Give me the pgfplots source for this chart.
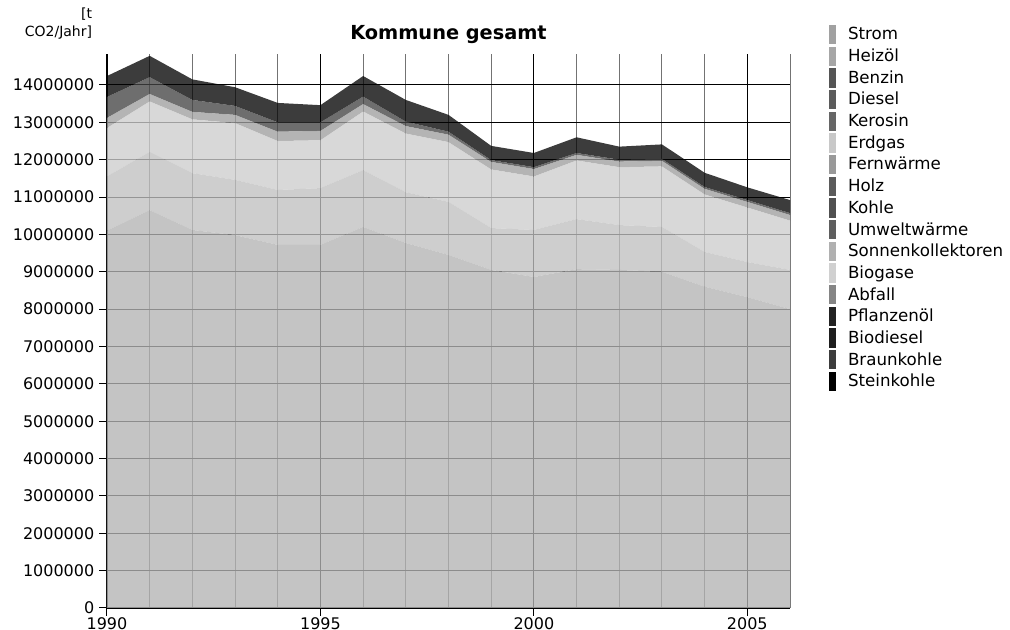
\documentclass[border=0pt]{standalone}
\usepackage{fontspec}
\setmainfont{DejaVu Sans}
\usepackage{pgfplots}
\pgfplotsset{compat=1.18}
\usepackage{pgfplotstable}

\definecolor{fStrom}{gray}{0.706}
\definecolor{fHeiz}{gray}{0.753}
\definecolor{fErd}{gray}{0.804}
\definecolor{fFern}{gray}{0.624}
\definecolor{fDiesel}{gray}{0.271}
\definecolor{fBenzin}{gray}{0.02}

\definecolor{lStrom}{gray}{0.63}
\definecolor{lHeiz}{gray}{0.65}
\definecolor{lBenzin}{gray}{0.335}
\definecolor{lDiesel}{gray}{0.355}
\definecolor{lKerosin}{gray}{0.40}
\definecolor{lErd}{gray}{0.785}
\definecolor{lFern}{gray}{0.60}
\definecolor{lHolz}{gray}{0.355}
\definecolor{lKohle}{gray}{0.315}
\definecolor{lUmwelt}{gray}{0.37}
\definecolor{lSonnen}{gray}{0.69}
\definecolor{lBiogas}{gray}{0.815}
\definecolor{lAbfall}{gray}{0.52}
\definecolor{lPflanz}{gray}{0.135}
\definecolor{lBiodiesel}{gray}{0.118}
\definecolor{lBraun}{gray}{0.235}
\definecolor{lStein}{gray}{0.0}

\pgfplotstableread{
year strom heiz erdgas fern diesel benzin
1990 10100000 1450000 1300000 270000 560000 560000
1991 10650000 1560000 1350000 200000 450000 570000
1992 10120000 1520000 1440000 200000 320000 550000
1993 9980000 1480000 1520000 220000 240000 500000
1994 9720000 1470000 1310000 250000 250000 520000
1995 9720000 1520000 1280000 250000 230000 460000
1996 10200000 1520000 1570000 200000 200000 550000
1997 9770000 1360000 1570000 200000 120000 580000
1998 9450000 1420000 1600000 200000 80000 450000
1999 9050000 1120000 1570000 200000 50000 380000
2000 8860000 1260000 1430000 200000 50000 380000
2001 9070000 1340000 1570000 150000 50000 420000
2002 9050000 1200000 1550000 150000 50000 350000
2003 9000000 1200000 1620000 150000 50000 390000
2004 8600000 930000 1540000 150000 50000 380000
2005 8320000 940000 1460000 150000 50000 340000
2006 8000000 1050000 1320000 150000 50000 350000
}\data

\pgfplotsset{swatch/.style={legend image code/.code={\fill[##1, draw=none] (0pt,-7.2pt) rectangle (5.25pt,7.2pt);}}}

\begin{document}
\begin{tikzpicture}
\begin{axis}[
  set layers,
  clip=false,
  scale only axis, width=512.25pt, height=415.5pt,
  xmin=1990, xmax=2006, ymin=0, ymax=14830000,
  stack plots=y,
  axis lines*=left,
  axis line style={black, line width=1pt, on layer=axis foreground},
  xtick={1990,1995,2000,2005},
  minor xtick={1991,1992,1993,1994,1996,1997,1998,1999,2001,2002,2003,2004,2006},
  ytick={0,1000000,2000000,3000000,4000000,5000000,6000000,7000000,8000000,9000000,10000000,11000000,12000000,13000000,14000000},
  grid=both,
  major grid style={black, line width=0.75pt},
  minor grid style={black!55, line width=0.75pt},
  tick align=outside,
  major tick length=6pt,
  minor tick length=0pt,
  tick style={black, line width=0.75pt},
  scaled y ticks=false,
  scaled x ticks=false,
  /pgf/number format/fixed,
  /pgf/number format/precision=0,
  /pgf/number format/1000 sep={},
  /pgf/number format/assume math mode=true,
  tick label style={font=\fontsize{12}{13}\selectfont},
  xticklabel style={inner sep=0pt, yshift=-1pt},
  legend cell align=left,
  legend style={at={(1.0571,1.0524)}, anchor=north west, draw=none, fill=none,
    inner sep=0pt, outer sep=0pt, row sep=1.86pt, column sep=9pt,
    font=\fontsize{12.5}{14}\selectfont, nodes={inner sep=0pt}},
]
\addplot[fill=fStrom, draw=none, fill opacity=0.78, forget plot] table[x=year, y=strom]{\data} \closedcycle;
\addplot[fill=fHeiz, draw=none, fill opacity=0.78, forget plot] table[x=year, y=heiz]{\data} \closedcycle;
\addplot[fill=fErd, draw=none, fill opacity=0.78, forget plot] table[x=year, y=erdgas]{\data} \closedcycle;
\addplot[fill=fFern, draw=none, fill opacity=0.78, forget plot] table[x=year, y=fern]{\data} \closedcycle;
\addplot[fill=fDiesel, draw=none, fill opacity=0.78, forget plot] table[x=year, y=diesel]{\data} \closedcycle;
\addplot[fill=fBenzin, draw=none, fill opacity=0.78, forget plot] table[x=year, y=benzin]{\data} \closedcycle;

\addlegendimage{swatch, fill=lStrom}\addlegendentry{Strom}
\addlegendimage{swatch, fill=lHeiz}\addlegendentry{Heizöl}
\addlegendimage{swatch, fill=lBenzin}\addlegendentry{Benzin}
\addlegendimage{swatch, fill=lDiesel}\addlegendentry{Diesel}
\addlegendimage{swatch, fill=lKerosin}\addlegendentry{Kerosin}
\addlegendimage{swatch, fill=lErd}\addlegendentry{Erdgas}
\addlegendimage{swatch, fill=lFern}\addlegendentry{Fernwärme}
\addlegendimage{swatch, fill=lHolz}\addlegendentry{Holz}
\addlegendimage{swatch, fill=lKohle}\addlegendentry{Kohle}
\addlegendimage{swatch, fill=lUmwelt}\addlegendentry{Umweltwärme}
\addlegendimage{swatch, fill=lSonnen}\addlegendentry{Sonnenkollektoren}
\addlegendimage{swatch, fill=lBiogas}\addlegendentry{Biogase}
\addlegendimage{swatch, fill=lAbfall}\addlegendentry{Abfall}
\addlegendimage{swatch, fill=lPflanz}\addlegendentry{Pflanzenöl}
\addlegendimage{swatch, fill=lBiodiesel}\addlegendentry{Biodiesel}
\addlegendimage{swatch, fill=lBraun}\addlegendentry{Braunkohle}
\addlegendimage{swatch, fill=lStein}\addlegendentry{Steinkohle}

\node[anchor=base, yshift=10.5pt, font=\bfseries\fontsize{14.5}{17}\selectfont] at (rel axis cs:0.5,1) {Kommune gesamt};
\node[anchor=south east, align=right, inner sep=0pt, xshift=-11pt, yshift=11pt, font=\fontsize{10.5}{13.3}\selectfont] at (rel axis cs:0,1) {[t\\CO2/Jahr]};
\end{axis}
\pgfresetboundingbox
\path[use as bounding box] (-80.25pt,-16.5pt) rectangle (677.25pt,456pt);
\end{tikzpicture}
\end{document}
